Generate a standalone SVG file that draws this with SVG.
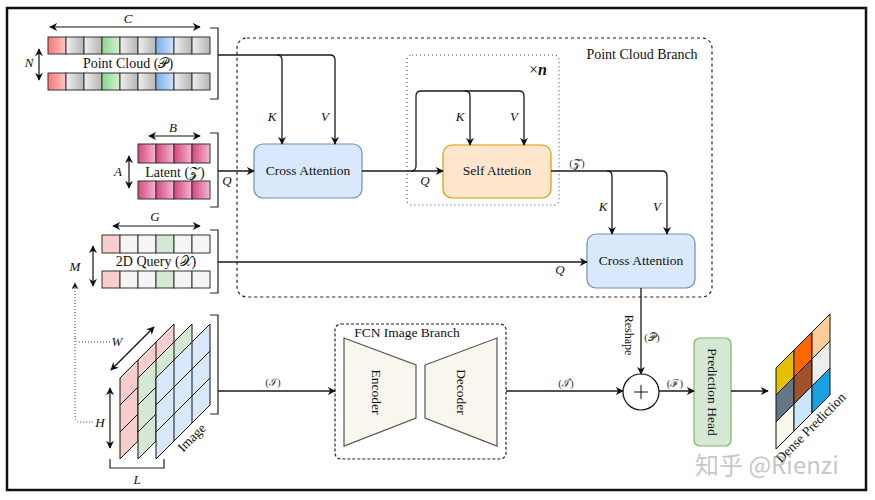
<svg xmlns="http://www.w3.org/2000/svg" width="875" height="500" viewBox="0 0 875 500">
<style>
.t{font-family:"Liberation Serif","DejaVu Serif",serif;font-size:13.5px;fill:#111;text-anchor:middle}
.lb{font-family:"Liberation Serif","DejaVu Serif",serif;font-size:14px;fill:#111;text-anchor:middle}
.s{font-family:"Liberation Serif","DejaVu Serif",serif;font-size:11px;fill:#333;text-anchor:middle}
.m{font-family:"Liberation Serif","DejaVu Serif",serif;font-size:13px;font-style:italic;fill:#111;text-anchor:middle}
.ln{fill:none;stroke:#1a1a1a;stroke-width:1.3}
.dim{fill:none;stroke:#111;stroke-width:1.2;marker-start:url(#ah);marker-end:url(#ah)}
.br{fill:none;stroke:#222;stroke-width:1.2}
.cell{stroke:#333;stroke-width:1}
.lay{stroke:#111;stroke-width:1}
.grid{fill:none;stroke:#111;stroke-width:1}
.dp{stroke:#111;stroke-width:1}
</style>
<defs>
<marker id="ah" viewBox="0 0 10 10" refX="9" refY="5" markerWidth="8" markerHeight="8" markerUnits="userSpaceOnUse" orient="auto-start-reverse"><path d="M0,0 L10,5 L0,10 L3,5 z" fill="#111"/></marker>
<marker id="ahs" viewBox="0 0 10 10" refX="9" refY="5" markerWidth="7" markerHeight="7" markerUnits="userSpaceOnUse" orient="auto"><path d="M0,0 L10,5 L0,10 L3,5 z" fill="#222"/></marker>
<linearGradient id="gGray" x1="0" x2="1" y1="0" y2="0"><stop offset="0" stop-color="#efefef"/><stop offset="1" stop-color="#b5b5b5"/></linearGradient>
<linearGradient id="gRed" x1="0" x2="1" y1="0" y2="0"><stop offset="0" stop-color="#ff7676"/><stop offset="1" stop-color="#ffc6c6"/></linearGradient>
<linearGradient id="gGreen" x1="0" x2="1" y1="0" y2="0"><stop offset="0" stop-color="#8ed68e"/><stop offset="1" stop-color="#d3f1d3"/></linearGradient>
<linearGradient id="gBlue" x1="0" x2="1" y1="0" y2="0"><stop offset="0" stop-color="#7aaef0"/><stop offset="1" stop-color="#d0e2fa"/></linearGradient>
<linearGradient id="gLat" x1="0" x2="1" y1="0" y2="0"><stop offset="0" stop-color="#d4487f"/><stop offset="1" stop-color="#f3b7d0"/></linearGradient>
</defs>
<rect x="0" y="0" width="875" height="500" fill="#fff"/>
<rect x="7" y="8" width="859" height="482" fill="none" stroke="#111" stroke-width="2.5"/>

<!-- containers -->
<g id="point-cloud-branch">
<rect x="237" y="38" width="475" height="259" rx="10" fill="none" stroke="#222" stroke-width="1.2" stroke-dasharray="3 3"/>
<text class="lb" x="642" y="59">Point Cloud Branch</text>
</g>
<g id="repeat-block">
<rect x="407" y="55" width="152" height="150" rx="5" fill="none" stroke="#555" stroke-width="1.2" stroke-dasharray="1 3"/>
<text x="538" y="75" style="font-family:'Liberation Serif','DejaVu Serif',serif;font-size:16px;text-anchor:middle;fill:#111">×<tspan font-style="italic" font-weight="bold">n</tspan></text>
</g>
<g id="fcn-branch">
<rect x="335" y="324" width="171" height="135" rx="6" fill="none" stroke="#222" stroke-width="1.2" stroke-dasharray="3 2"/>
<text class="t" x="407" y="337">FCN Image Branch</text>
</g>

<!-- point cloud -->
<g id="point-cloud">
<rect class="cell" x="48" y="37" width="18" height="17" fill="url(#gRed)"/>
<rect class="cell" x="66" y="37" width="18" height="17" fill="url(#gGray)"/>
<rect class="cell" x="84" y="37" width="18" height="17" fill="url(#gGray)"/>
<rect class="cell" x="102" y="37" width="18" height="17" fill="url(#gGreen)"/>
<rect class="cell" x="120" y="37" width="18" height="17" fill="url(#gGray)"/>
<rect class="cell" x="138" y="37" width="18" height="17" fill="url(#gGray)"/>
<rect class="cell" x="156" y="37" width="18" height="17" fill="url(#gBlue)"/>
<rect class="cell" x="174" y="37" width="18" height="17" fill="url(#gGray)"/>
<rect class="cell" x="192" y="37" width="18" height="17" fill="url(#gGray)"/>
<rect class="cell" x="48" y="73" width="18" height="17" fill="url(#gRed)"/>
<rect class="cell" x="66" y="73" width="18" height="17" fill="url(#gGray)"/>
<rect class="cell" x="84" y="73" width="18" height="17" fill="url(#gGray)"/>
<rect class="cell" x="102" y="73" width="18" height="17" fill="url(#gGreen)"/>
<rect class="cell" x="120" y="73" width="18" height="17" fill="url(#gGray)"/>
<rect class="cell" x="138" y="73" width="18" height="17" fill="url(#gGray)"/>
<rect class="cell" x="156" y="73" width="18" height="17" fill="url(#gBlue)"/>
<rect class="cell" x="174" y="73" width="18" height="17" fill="url(#gGray)"/>
<rect class="cell" x="192" y="73" width="18" height="17" fill="url(#gGray)"/>
<text class="lb" x="128" y="68">Point Cloud (𝒫)</text>
<path class="dim" d="M50,27 H200"/>
<text class="m" x="128" y="23">C</text>
<path class="dim" d="M39,49 V80"/>
<text class="m" x="29" y="67">N</text>
<path class="br" d="M210,28 H218 V99 H210"/>
</g>

<!-- latent -->
<g id="latent">
<rect class="cell" x="138" y="144" width="18" height="19" fill="url(#gLat)"/>
<rect class="cell" x="156" y="144" width="18" height="19" fill="url(#gLat)"/>
<rect class="cell" x="174" y="144" width="18" height="19" fill="url(#gLat)"/>
<rect class="cell" x="192" y="144" width="18" height="19" fill="url(#gLat)"/>
<rect class="cell" x="138" y="181" width="18" height="18" fill="url(#gLat)"/>
<rect class="cell" x="156" y="181" width="18" height="18" fill="url(#gLat)"/>
<rect class="cell" x="174" y="181" width="18" height="18" fill="url(#gLat)"/>
<rect class="cell" x="192" y="181" width="18" height="18" fill="url(#gLat)"/>
<text class="lb" x="175" y="177">Latent (𝒵)</text>
<path class="dim" d="M149,136 H200"/>
<text class="m" x="173" y="132">B</text>
<path class="dim" d="M129,156 V188"/>
<text class="m" x="118" y="176">A</text>
<path class="br" d="M210,133 H218 V207 H210"/>
</g>

<!-- 2D query -->
<g id="query-2d">
<rect class="cell" x="102" y="235" width="18" height="18" fill="#f8cecc"/>
<rect class="cell" x="120" y="235" width="18" height="18" fill="#f5f5f5"/>
<rect class="cell" x="138" y="235" width="18" height="18" fill="#f5f5f5"/>
<rect class="cell" x="156" y="235" width="18" height="18" fill="#d5e8d4"/>
<rect class="cell" x="174" y="235" width="18" height="18" fill="#f5f5f5"/>
<rect class="cell" x="192" y="235" width="18" height="18" fill="#f5f5f5"/>
<rect class="cell" x="102" y="271" width="18" height="17" fill="#f8cecc"/>
<rect class="cell" x="120" y="271" width="18" height="17" fill="#f5f5f5"/>
<rect class="cell" x="138" y="271" width="18" height="17" fill="#f5f5f5"/>
<rect class="cell" x="156" y="271" width="18" height="17" fill="#d5e8d4"/>
<rect class="cell" x="174" y="271" width="18" height="17" fill="#f5f5f5"/>
<rect class="cell" x="192" y="271" width="18" height="17" fill="#f5f5f5"/>
<text class="lb" x="156" y="266">2D Query (𝒳)</text>
<path class="dim" d="M113,226 H200"/>
<text class="m" x="155" y="221">G</text>
<path class="dim" d="M93,246 V286"/>
<text class="m" x="75" y="271">M</text>
<path class="br" d="M210,230 H218 V293 H210"/>
</g>

<!-- image -->
<g id="image">
<polygon class="lay" points="120,378 174,324 174,405 120,459" fill="#f8cecc"/>
<path class="grid" d="M138,360 V441 M156,342 V423 M120,405 L174,351 M120,432 L174,378"/>
<polygon class="lay" points="138,378 192,324 192,405 138,459" fill="#d5e8d4"/>
<path class="grid" d="M156,360 V441 M174,342 V423 M138,405 L192,351 M138,432 L192,378"/>
<polygon class="lay" points="156,378 210,324 210,405 156,459" fill="#dae8fc"/>
<path class="grid" d="M174,360 V441 M192,342 V423 M156,405 L210,351 M156,432 L210,378"/>
<text class="t" x="192" y="442" transform="rotate(-45 192 438)">Image</text>
<path class="dim" d="M111,370 L154,327"/>
<text class="m" x="117" y="346">W</text>
<path class="dim" d="M110,388 V448"/>
<text class="m" x="100" y="427">H</text>
<path class="br" d="M110,459 V468 H164 V459"/>
<text class="m" x="137" y="484">L</text>
<path class="br" d="M210,315 H218 V414 H210"/>
</g>

<!-- nodes -->
<g id="cross-attention-1">
<rect x="254" y="144" width="108" height="54" rx="9" fill="#dae8fc" stroke="#6c8ebf" stroke-width="1.2"/>
<text class="t" x="308" y="175">Cross Attention</text>
</g>
<g id="self-attention">
<rect x="443" y="145" width="108" height="53" rx="9" fill="#ffe6cc" stroke="#d79b00" stroke-width="1.2"/>
<text class="t" x="497" y="175">Self Attetion</text>
</g>
<g id="cross-attention-2">
<rect x="587" y="234" width="108" height="54" rx="9" fill="#dae8fc" stroke="#6c8ebf" stroke-width="1.2"/>
<text class="t" x="641" y="265">Cross Attention</text>
</g>
<g id="encoder">
<polygon points="344,338 416,365 416,418 344,446" fill="#f9f7ed" stroke="#555" stroke-width="1.2"/>
<text class="t" x="376" y="392" transform="rotate(90 376 392)" dy="4">Encoder</text>
</g>
<g id="decoder">
<polygon points="425,365 497,338 497,446 425,418" fill="#f9f7ed" stroke="#555" stroke-width="1.2"/>
<text class="t" x="461" y="392" transform="rotate(90 461 392)" dy="4">Decoder</text>
</g>
<g id="sum">
<circle cx="641" cy="392" r="18" fill="#fff" stroke="#111" stroke-width="1.2"/>
<path d="M634,392 H648 M641,385 V399" stroke="#111" stroke-width="1"/>
</g>
<g id="prediction-head">
<rect x="694" y="338" width="37" height="108" rx="6" fill="#d5e8d4" stroke="#82b366" stroke-width="1.2"/>
<text class="t" x="712" y="392" transform="rotate(90 712 392)" dy="4">Prediction Head</text>
</g>
<g id="dense-prediction">
<polygon class="dp" points="776,368 794,350 794,377 776,395" fill="#e3c000"/>
<polygon class="dp" points="776,395 794,377 794,404 776,422" fill="#647687"/>
<polygon class="dp" points="776,422 794,404 794,431 776,449" fill="#f9f7ed"/>
<polygon class="dp" points="794,350 812,332 812,359 794,377" fill="#fa6800"/>
<polygon class="dp" points="794,377 812,359 812,386 794,404" fill="#a0522d"/>
<polygon class="dp" points="794,404 812,386 812,413 794,431" fill="#cce5ff"/>
<polygon class="dp" points="812,332 830,314 830,341 812,359" fill="#ffcc99"/>
<polygon class="dp" points="812,359 830,341 830,368 812,386" fill="#eeeeee"/>
<polygon class="dp" points="812,386 830,368 830,395 812,413" fill="#1ba1e2"/>
<text class="t" x="811" y="432" transform="rotate(-45 811 428)">Dense Prediction</text>
</g>

<!-- connectors -->
<g id="connectors">
<path class="ln" d="M218,55 H330 Q335,55 335,60 V144" marker-end="url(#ah)"/>
<path class="ln" d="M277,55 Q282,55 282,60 V144" marker-end="url(#ah)"/>
<path class="ln" d="M218,171 H254" marker-end="url(#ah)"/>
<path class="ln" d="M362,171 H443" marker-end="url(#ah)"/>
<path class="ln" d="M411,171 Q416,171 416,166 V96 Q416,91 421,91 H519 Q524,91 524,96 V145" marker-end="url(#ah)"/>
<path class="ln" d="M465,91 Q470,91 470,96 V145" marker-end="url(#ah)"/>
<path class="ln" d="M551,171 H662 Q667,171 667,176 V234" marker-end="url(#ah)"/>
<path class="ln" d="M607,171 Q612,171 612,176 V234" marker-end="url(#ah)"/>
<path class="ln" d="M218,262 H587" marker-end="url(#ah)"/>
<path class="ln" d="M641,288 V374" marker-end="url(#ah)"/>
<path class="ln" d="M218,391 H335" marker-end="url(#ah)"/>
<path class="ln" d="M506,391 H623" marker-end="url(#ah)"/>
<path class="ln" d="M659,391 H694" marker-end="url(#ah)"/>
<path class="ln" d="M731,391 H768" marker-end="url(#ah)"/>
<path d="M75,337 V283" fill="none" stroke="#333" stroke-width="1" stroke-dasharray="1 2" marker-end="url(#ahs)"/>
<path d="M110,342 H80 Q75,342 75,337 V417 Q75,422 80,422 H93" fill="none" stroke="#333" stroke-width="1" stroke-dasharray="1 2"/>
<text class="m" x="272" y="121">K</text>
<text class="m" x="325" y="121">V</text>
<text class="m" x="227" y="185">Q</text>
<text class="m" x="460" y="121">K</text>
<text class="m" x="514" y="121">V</text>
<text class="m" x="425" y="185">Q</text>
<text class="m" x="603" y="211">K</text>
<text class="m" x="657" y="211">V</text>
<text class="m" x="560" y="274">Q</text>
<text class="s" x="577" y="167">(𝒵̂)</text>
<text class="s" x="273" y="386">(ℐ)</text>
<text class="s" x="566" y="387">(ℐ̂)</text>
<text class="s" x="675" y="387">(ℱ)</text>
<text class="s" x="652" y="341">(𝒫̂)</text>
<text class="t" x="629" y="335" transform="rotate(90 629 335)" dy="4" style="font-size:12px">Reshape</text>
</g>

<text x="695" y="474" style="font-family:'Noto Sans CJK SC','Noto Sans',sans-serif;font-size:24px;fill:#9a9a9a;opacity:0.55">知乎 @Rienzi</text>
</svg>
